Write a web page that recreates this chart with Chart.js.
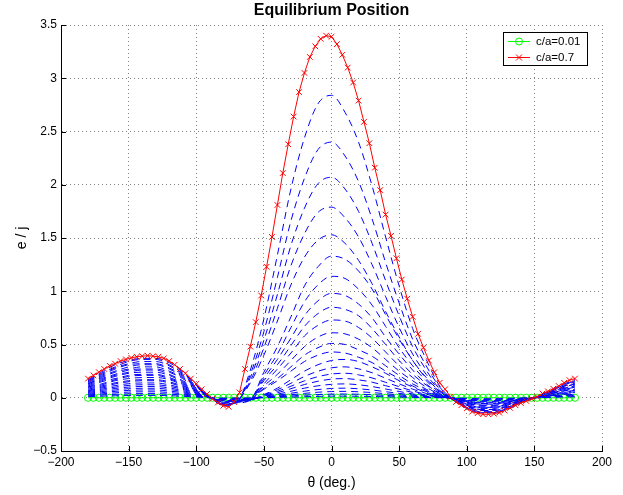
<!DOCTYPE html>
<html>
<head>
<meta charset="utf-8">
<script src="https://cdn.jsdelivr.net/npm/chart.js@4.4.1/dist/chart.umd.min.js"></script>
<style>
  html, body { margin: 0; padding: 0; background: #fff; }
  #wrap { width: 623px; height: 495px; }
</style>
</head>
<body>
<div id="wrap"><canvas id="chart" width="623" height="495"></canvas></div>
<script>
// ── data ─────────────────────────────────────
const TITLE   = 'Equilibrium Position';
const X_LABEL = 'θ (deg.)';
const Y_LABEL = 'e / j';

const X_TICKS = [-200, -150, -100, -50, 0, 50, 100, 150, 200];
const Y_TICKS = [-0.5, 0, 0.5, 1, 1.5, 2, 2.5, 3, 3.5];

// theta grid of the two legend curves (4 deg)
const THETA_FINE = [
  -180,-176,-172,-168,-164,-160,-156,-152,-148,-144,-140,-136,-132,-128,-124,-120,-116,-112,-108,-104,
  -100,-96,-92,-88,-84,-80,-76,-72,-68,-64,-60,-56,-52,-48,-44,-40,-36,-32,-28,-24,
  -20,-16,-12,-8,-4,0,4,8,12,16,20,24,28,32,36,40,44,48,52,56,
  60,64,68,72,76,80,84,88,92,96,100,104,108,112,116,120,124,128,132,136,
  140,144,148,152,156,160,164,168,172,176,180
];
// theta grid of the intermediate curves (10 deg)
const THETA_COARSE = [
  -180,-170,-160,-150,-140,-130,-120,-110,-100,-90,-80,-70,-60,-50,-40,-30,-20,-10,
  0,10,20,30,40,50,60,70,80,90,100,110,120,130,140,150,160,170,180
];

const CA_001 = [
  0,0,0,0,0,0,0,0,0,0,0,0,0,0,0,0,0,0,0,0,
  0,0,0,0,0,0,0,0,0,0,0,0,0,0,0,0,0,0,0,0,
  0,0,0,0,0,0,0,0,0,0,0,0,0,0,0,0,0,0,0,0,
  0,0,0,0,0,0,0,0,0,0,0,0,0,0,0,0,0,0,0,0,
  0,0,0,0,0,0,0,0,0,0,0
];
const CA_070 = [
  0.18,0.21,0.24,0.27,0.30,0.32,0.345,0.36,0.375,0.385,0.39,0.395,0.39,0.385,0.37,0.345,0.31,0.27,0.23,0.18,
  0.13,0.08,0.035,-0.01,-0.045,-0.075,-0.085,-0.04,0.05,0.27,0.48,0.71,0.96,1.23,1.51,1.81,2.11,2.38,2.64,2.87,
  3.05,3.20,3.30,3.37,3.40,3.39,3.32,3.22,3.10,2.96,2.79,2.59,2.39,2.16,1.95,1.72,1.52,1.31,1.11,0.93,
  0.76,0.60,0.47,0.35,0.24,0.14,0.08,0.01,-0.04,-0.07,-0.10,-0.13,-0.145,-0.155,-0.155,-0.15,-0.14,-0.12,-0.095,-0.07,
  -0.05,-0.03,-0.01,0.01,0.04,0.06,0.085,0.11,0.14,0.165,0.18
];

// intermediate c/a = 0.04 ... 0.67 (dashed blue, no legend entry)
const CA_067 = [0.17,0.24,0.31,0.35,0.37,0.37,0.33,0.24,0.12,0.01,-0.07,-0.04,0.26,0.74,1.34,1.96,2.44,2.76,2.84,2.68,2.40,1.99,1.51,1.05,0.65,0.36,0.11,-0.02,-0.10,-0.14,-0.14,-0.11,-0.05,0.00,0.06,0.12,0.17];
const CA_064 = [0.16,0.23,0.29,0.34,0.36,0.36,0.31,0.23,0.12,0.01,-0.07,-0.04,0.22,0.62,1.13,1.66,2.06,2.33,2.40,2.27,2.03,1.68,1.27,0.89,0.55,0.30,0.10,-0.02,-0.09,-0.14,-0.14,-0.10,-0.05,0.00,0.05,0.11,0.16];
const CA_061 = [0.16,0.22,0.28,0.32,0.34,0.34,0.30,0.22,0.11,0.01,-0.07,-0.04,0.19,0.54,0.97,1.43,1.78,2.01,2.07,1.96,1.75,1.45,1.10,0.77,0.48,0.26,0.08,-0.02,-0.09,-0.13,-0.13,-0.10,-0.04,0.00,0.05,0.11,0.16];
const CA_058 = [0.15,0.21,0.27,0.31,0.32,0.32,0.28,0.21,0.11,0.01,-0.06,-0.03,0.16,0.47,0.84,1.24,1.54,1.74,1.79,1.69,1.51,1.25,0.95,0.66,0.41,0.22,0.07,-0.02,-0.08,-0.12,-0.12,-0.09,-0.04,0.00,0.05,0.10,0.15];
const CA_055 = [0.14,0.20,0.25,0.29,0.31,0.31,0.27,0.20,0.10,0.01,-0.06,-0.03,0.14,0.40,0.72,1.06,1.32,1.48,1.53,1.45,1.29,1.07,0.81,0.57,0.35,0.19,0.06,-0.02,-0.08,-0.12,-0.12,-0.09,-0.04,0.00,0.05,0.10,0.14];
const CA_052 = [0.13,0.19,0.24,0.27,0.29,0.29,0.25,0.19,0.10,0.01,-0.06,-0.05,-0.02,0.24,0.48,0.76,1.05,1.23,1.33,1.30,1.19,1.02,0.78,0.55,0.35,0.18,0.06,-0.01,-0.07,-0.11,-0.11,-0.08,-0.04,0.00,0.04,0.09,0.13];
const CA_049 = [0.13,0.18,0.22,0.26,0.27,0.27,0.24,0.18,0.09,0.01,-0.05,-0.04,-0.02,0.21,0.41,0.66,0.90,1.06,1.14,1.12,1.02,0.87,0.67,0.47,0.30,0.16,0.05,-0.01,-0.07,-0.11,-0.11,-0.08,-0.04,0.00,0.04,0.09,0.13];
const CA_046 = [0.12,0.17,0.21,0.24,0.26,0.26,0.22,0.16,0.09,0.01,-0.05,-0.04,-0.02,0.18,0.36,0.56,0.77,0.91,0.98,0.96,0.88,0.75,0.57,0.41,0.26,0.13,0.04,-0.01,-0.07,-0.10,-0.10,-0.07,-0.03,0.00,0.04,0.08,0.12];
const CA_043 = [0.11,0.16,0.20,0.23,0.24,0.24,0.21,0.15,0.08,0.01,-0.05,-0.04,-0.02,0.16,0.31,0.49,0.67,0.79,0.85,0.83,0.77,0.65,0.50,0.35,0.22,0.12,0.04,-0.01,-0.06,-0.09,-0.09,-0.07,-0.03,0.00,0.04,0.08,0.11];
const CA_040 = [0.10,0.15,0.18,0.21,0.22,0.22,0.19,0.14,0.07,0.01,-0.04,-0.03,-0.02,0.13,0.27,0.42,0.58,0.68,0.73,0.72,0.66,0.56,0.43,0.30,0.19,0.10,0.03,-0.01,-0.06,-0.09,-0.09,-0.06,-0.03,0.00,0.03,0.07,0.10];
const CA_037 = [0.10,0.13,0.17,0.20,0.21,0.21,0.18,0.13,0.07,0.01,-0.04,-0.03,-0.02,0.11,0.22,0.35,0.48,0.57,0.61,0.60,0.55,0.47,0.36,0.25,0.16,0.08,0.03,-0.01,-0.05,-0.08,-0.08,-0.06,-0.03,0.00,0.03,0.07,0.10];
const CA_034 = [0.09,0.12,0.16,0.18,0.19,0.19,0.17,0.12,0.06,0.01,-0.04,-0.03,-0.02,0.09,0.18,0.29,0.40,0.47,0.51,0.50,0.45,0.39,0.30,0.21,0.13,0.07,0.02,-0.01,-0.05,-0.07,-0.07,-0.05,-0.02,0.00,0.03,0.06,0.09];
const CA_031 = [0.08,0.11,0.14,0.16,0.17,0.17,0.15,0.11,0.06,0.00,-0.03,-0.03,-0.01,0.08,0.16,0.25,0.34,0.40,0.43,0.42,0.38,0.33,0.25,0.18,0.11,0.06,0.02,-0.01,-0.04,-0.07,-0.07,-0.05,-0.02,0.00,0.03,0.06,0.08];
const CA_028 = [0.07,0.10,0.13,0.15,0.16,0.16,0.14,0.10,0.05,0.00,-0.03,-0.02,-0.02,0.03,0.09,0.17,0.25,0.31,0.35,0.36,0.34,0.29,0.23,0.16,0.10,0.05,0.02,-0.01,-0.04,-0.06,-0.06,-0.04,-0.02,0.00,0.02,0.05,0.07];
const CA_025 = [0.064,0.091,0.114,0.132,0.139,0.139,0.121,0.089,0.046,0.004,-0.027,-0.021,-0.018,0.026,0.075,0.136,0.20,0.249,0.281,0.29,0.271,0.235,0.183,0.131,0.081,0.041,0.013,-0.007,-0.036,-0.054,-0.054,-0.039,-0.018,0,0.021,0.045,0.064];
const CA_022 = [0.057,0.08,0.10,0.116,0.122,0.122,0.107,0.079,0.041,0.003,-0.024,-0.019,-0.016,0.021,0.06,0.108,0.159,0.198,0.223,0.23,0.215,0.186,0.145,0.104,0.064,0.032,0.01,-0.006,-0.031,-0.047,-0.047,-0.035,-0.016,0,0.019,0.039,0.057];
const CA_019 = [0.049,0.069,0.087,0.10,0.106,0.106,0.092,0.068,0.035,0.003,-0.02,-0.016,-0.014,0.016,0.047,0.085,0.124,0.155,0.175,0.18,0.168,0.146,0.113,0.081,0.05,0.025,0.008,-0.005,-0.027,-0.041,-0.041,-0.03,-0.014,0,0.016,0.034,0.049];
const CA_016 = [0.041,0.058,0.073,0.085,0.089,0.089,0.078,0.057,0.03,0.002,-0.017,-0.014,-0.011,0.012,0.034,0.061,0.09,0.112,0.126,0.13,0.122,0.105,0.082,0.059,0.036,0.018,0.006,-0.005,-0.023,-0.034,-0.034,-0.025,-0.011,0,0.014,0.029,0.041];
const CA_013 = [0.033,0.047,0.06,0.069,0.073,0.073,0.063,0.047,0.024,0.002,-0.014,-0.011,-0.009,0.008,0.023,0.042,0.062,0.077,0.087,0.09,0.084,0.073,0.057,0.041,0.025,0.013,0.004,-0.004,-0.019,-0.028,-0.028,-0.02,-0.009,0,0.011,0.023,0.033];
const CA_010 = [0.026,0.036,0.046,0.053,0.056,0.056,0.049,0.036,0.019,0.001,-0.011,-0.009,-0.007,0.005,0.016,0.028,0.041,0.052,0.058,0.06,0.056,0.049,0.038,0.027,0.017,0.008,0.003,-0.003,-0.014,-0.021,-0.021,-0.016,-0.007,0,0.009,0.018,0.026];
const CA_007 = [0.018,0.026,0.032,0.037,0.039,0.039,0.034,0.025,0.013,0.001,-0.008,-0.006,-0.005,0.003,0.009,0.016,0.024,0.03,0.034,0.035,0.033,0.028,0.022,0.016,0.01,0.005,0.002,-0.002,-0.01,-0.015,-0.015,-0.011,-0.005,0,0.006,0.013,0.018];
const CA_004 = [0.01,0.015,0.018,0.021,0.022,0.022,0.019,0.014,0.007,0.001,-0.004,-0.003,-0.003,0.001,0.004,0.007,0.01,0.013,0.015,0.015,0.014,0.012,0.009,0.007,0.004,0.002,0.001,-0.001,-0.006,-0.009,-0.009,-0.006,-0.003,0,0.003,0.007,0.01];

const BLUE_SERIES = [
  CA_067, CA_064, CA_061, CA_058, CA_055, CA_052, CA_049, CA_046, CA_043, CA_040, CA_037,
  CA_034, CA_031, CA_028, CA_025, CA_022, CA_019, CA_016, CA_013, CA_010, CA_007, CA_004
];

// ── chart ────────────────────────────────────
const FONT = "'Liberation Sans', Arial, Helvetica, sans-serif";
const pts = (xs, ys) => ys.map((v, i) => ({ x: xs[i], y: v }));
const fmtTick = v => String(v).replace('-', '\u2212');

const datasets = [];
// first dataset is painted last (on top)
datasets.push({
  label: 'c/a=0.7', data: pts(THETA_FINE, CA_070),
  borderColor: '#ff0000', borderWidth: 1, pointStyle: 'crossRot',
  pointRadius: 4, pointBorderColor: '#ff0000', pointBorderWidth: 1, tension: 0,
});
BLUE_SERIES.forEach(s => {
  datasets.push({
    label: '', data: pts(THETA_COARSE, s),
    borderColor: '#0000ff', borderWidth: 1, borderDash: [7, 5],
    pointRadius: 0, cubicInterpolationMode: 'monotone',
  });
});
datasets.push({
  label: 'c/a=0.01', data: pts(THETA_FINE, CA_001),
  borderColor: '#00ff00', borderWidth: 1, pointStyle: 'circle',
  pointRadius: 3.6, pointBorderColor: '#00ff00', pointBackgroundColor: 'rgba(0,0,0,0)',
  pointBorderWidth: 1, tension: 0,
});

const matlabLook = {
  id: 'matlabLook',
  afterDraw(chart) {
    const { ctx, chartArea: a, scales: { x, y } } = chart;
    ctx.save();

    // inward tick marks
    ctx.strokeStyle = '#000';
    ctx.lineWidth = 1;
    ctx.beginPath();
    X_TICKS.forEach(v => {
      const px = Math.round(x.getPixelForValue(v)) + 0.5;
      ctx.moveTo(px, a.bottom); ctx.lineTo(px, a.bottom - 5);
    });
    Y_TICKS.forEach(v => {
      const py = Math.round(y.getPixelForValue(v)) + 0.5;
      ctx.moveTo(a.left, py); ctx.lineTo(a.left + 5, py);
    });
    ctx.stroke();

    // titles
    ctx.fillStyle = '#000';
    ctx.textAlign = 'center';
    ctx.textBaseline = 'middle';
    ctx.font = 'bold 16px ' + FONT;
    ctx.fillText(TITLE, (a.left + a.right) / 2, 11);
    ctx.font = '14px ' + FONT;
    ctx.fillText(X_LABEL, (a.left + a.right) / 2, 483);
    ctx.save();
    ctx.translate(22, 238);
    ctx.rotate(-Math.PI / 2);
    ctx.fillText(Y_LABEL, 0, 0);
    ctx.restore();

    // legend box
    const entries = [chart.data.datasets[chart.data.datasets.length - 1], chart.data.datasets[0]];
    const bx = 503.5, by = 32.5, bw = 84, bh = 33;
    ctx.fillStyle = '#fff';
    ctx.fillRect(bx, by, bw, bh);
    ctx.strokeStyle = '#000';
    ctx.strokeRect(bx, by, bw, bh);
    ctx.font = '11.5px ' + FONT;
    ctx.textAlign = 'left';
    entries.forEach((ds, i) => {
      const ly = 41 + i * 16 + 0.5;
      ctx.strokeStyle = ds.borderColor;
      ctx.beginPath();
      ctx.moveTo(508, ly); ctx.lineTo(530, ly);
      ctx.stroke();
      ctx.beginPath();
      if (ds.pointStyle === 'circle') {
        ctx.arc(519, ly, 3.5, 0, Math.PI * 2);
      } else {
        ctx.moveTo(516, ly - 3); ctx.lineTo(522, ly + 3);
        ctx.moveTo(516, ly + 3); ctx.lineTo(522, ly - 3);
      }
      ctx.stroke();
      ctx.fillStyle = '#000';
      ctx.fillText(ds.label, 536, ly);
    });
    ctx.restore();
  }
};

new Chart(document.getElementById('chart'), {
  type: 'line',
  data: { datasets },
  options: {
    responsive: false,
    animation: false,
    layout: { padding: { left: 0, top: 25, right: 21, bottom: 0 } },
    plugins: { legend: { display: false }, tooltip: { enabled: false }, title: { display: false } },
    elements: { line: { fill: false } },
    scales: {
      x: {
        type: 'linear', min: -200, max: 200,
        afterFit: s => { s.height = 44; s.paddingLeft = 0; s.paddingRight = 0; },
        afterBuildTicks: s => { s.ticks = X_TICKS.map(v => ({ value: v })); },
        ticks: { color: '#000', padding: 4, font: { family: FONT, size: 12 }, callback: fmtTick, maxRotation: 0 },
        grid: { color: '#808080', drawTicks: false },
        border: { display: true, color: '#000', width: 1, dash: [1, 3] },
      },
      y: {
        type: 'linear', min: -0.5, max: 3.5,
        afterFit: s => { s.width = 61; s.paddingTop = 0; s.paddingBottom = 0; },
        afterBuildTicks: s => { s.ticks = Y_TICKS.map(v => ({ value: v })); },
        ticks: { color: '#000', padding: 4, font: { family: FONT, size: 12 }, callback: fmtTick },
        grid: { color: '#808080', drawTicks: false },
        border: { display: true, color: '#000', width: 1, dash: [1, 3] },
      },
    },
  },
  plugins: [matlabLook],
});
</script>
</body>
</html>
